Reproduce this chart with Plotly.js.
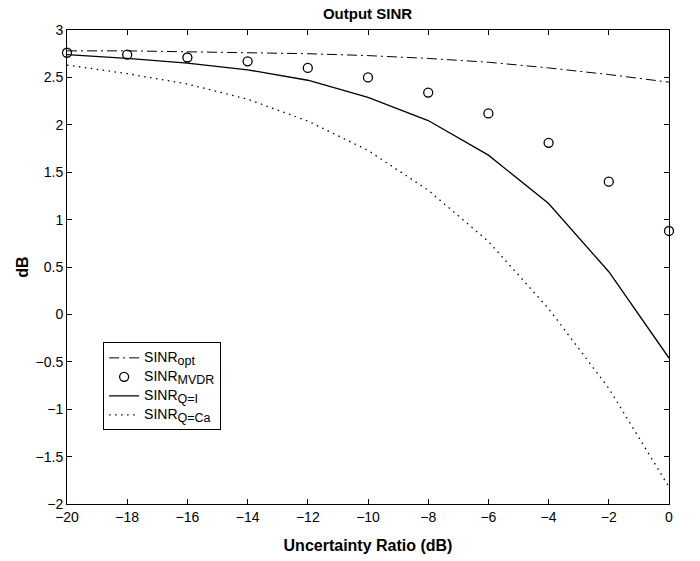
<!DOCTYPE html>
<html>
<head>
<meta charset="utf-8">
<script src="https://cdn.plot.ly/plotly-3.0.1.min.js"></script>
<style>html,body{margin:0;padding:0;background:#fff;}#chart{width:700px;height:561px;}</style>
</head>
<body>
<div id="chart"></div>
<script>
const ratio = [-20, -18, -16, -14, -12, -10, -8, -6, -4, -2, 0];
const sinrOpt = [2.78, 2.78, 2.77, 2.76, 2.75, 2.73, 2.70, 2.66, 2.60, 2.53, 2.45];
const sinrMvdr = [2.76, 2.74, 2.71, 2.67, 2.60, 2.50, 2.34, 2.12, 1.81, 1.40, 0.88];
const sinrQI = [2.74, 2.70, 2.65, 2.58, 2.47, 2.29, 2.045, 1.68, 1.17, 0.45, -0.46];
const sinrQCa = [2.63, 2.54, 2.43, 2.27, 2.04, 1.73, 1.31, 0.77, 0.06, -0.78, -1.82];
const subs = ['opt', 'MVDR', 'Q=I', 'Q=Ca'];
const names = subs.map(s => '<span style="font-size:14px">SINR</span><sub><span style="font-size:12.5px">' + s + '</span></sub>');

const traces = [
  {x: ratio, y: sinrOpt, name: names[0], mode: 'lines', line: {color: '#000', width: 1, dash: '10px,4px,2px,4px'}},
  {x: ratio, y: sinrMvdr, name: names[1], mode: 'markers', cliponaxis: false, marker: {symbol: 'circle-open', size: 9, color: '#000', line: {width: 1.3, color: '#000'}}},
  {x: ratio, y: sinrQI, name: names[2], mode: 'lines', line: {color: '#000', width: 1.3}},
  {x: ratio, y: sinrQCa, name: names[3], mode: 'lines', line: {color: '#000', width: 1.3, dash: '1.5px,4.5px'}}
];

const axisCommon = {
  showgrid: false, zeroline: false, showline: true, linecolor: '#000', linewidth: 1,
  mirror: 'ticks', ticks: 'inside', ticklen: 5, tickcolor: '#000', tickwidth: 1,
  tickfont: {family: 'Liberation Sans, Arial, sans-serif', size: 14, color: '#000'}
};

const layout = {
  width: 700, height: 561,
  margin: {l: 67, r: 31, t: 30, b: 57},
  paper_bgcolor: '#fff', plot_bgcolor: '#fff',
  title: {text: '<b>Output SINR</b>', x: 0.525, xanchor: 'center', y: 0.985, yanchor: 'top',
          font: {family: 'Liberation Sans, Arial, sans-serif', size: 15, color: '#000'}},
  xaxis: Object.assign({}, axisCommon, {
    range: [-20, 0], tickvals: ratio, ticktext: ratio.map(v => v < 0 ? '\u2212' + Math.abs(v) : String(v)),
    automargin: false,
    title: {text: '<b>Uncertainty Ratio (dB)</b>', standoff: 16,
            font: {family: 'Liberation Sans, Arial, sans-serif', size: 16, color: '#000'}}
  }),
  yaxis: Object.assign({}, axisCommon, {
    range: [-2, 3], tickvals: [-2, -1.5, -1, -0.5, 0, 0.5, 1, 1.5, 2, 2.5, 3],
    ticktext: ['\u22122', '\u22121.5', '\u22121', '\u22120.5', '0', '0.5', '1', '1.5', '2', '2.5', '3'],
    automargin: false,
    title: {text: '<b>dB</b>', standoff: 2,
            font: {family: 'Liberation Sans, Arial, sans-serif', size: 16, color: '#000'}}
  }),
  showlegend: true,
  legend: {x: 0.06, y: 0.341, xanchor: 'left', yanchor: 'top', bgcolor: '#fff',
           bordercolor: '#000', borderwidth: 1, tracegroupgap: 0, itemwidth: 30,
           font: {family: 'Liberation Sans, Arial, sans-serif', size: 11.5, color: '#000'}}
};

Plotly.newPlot('chart', traces, layout, {displayModeBar: false, staticPlot: true});
</script>
</body>
</html>
